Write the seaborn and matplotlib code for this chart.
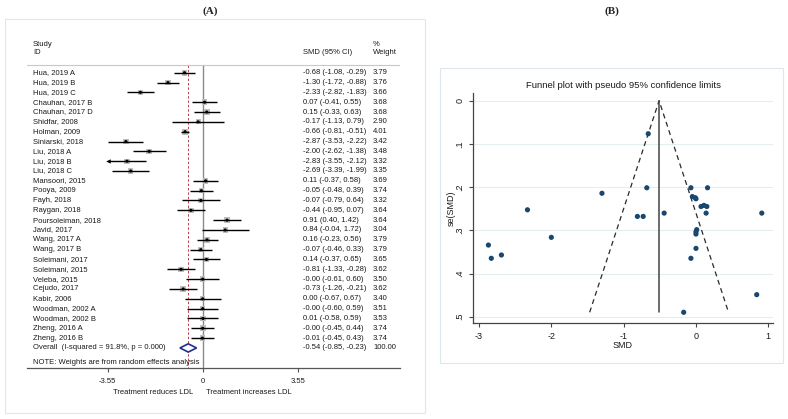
import numpy as np
import pandas as pd
import matplotlib
matplotlib.use("Agg")
import matplotlib.pyplot as plt
import seaborn as sns
from matplotlib.patches import Rectangle, Polygon

sns.set_style("white")
plt.rcParams["font.family"] = ["Liberation Sans", "DejaVu Sans"]

# ---------------- data ----------------
studies = ["Hua, 2019 A", "Hua, 2019 B", "Hua, 2019 C", "Chauhan, 2017 B", "Chauhan, 2017 D",
           "Shidfar, 2008", "Holman, 2009", "Siniarski, 2018", "Liu, 2018 A", "Liu, 2018 B",
           "Liu, 2018 C", "Mansoori, 2015", "Pooya, 2009", "Fayh, 2018", "Raygan, 2018",
           "Poursoleiman, 2018", "Javid, 2017", "Wang, 2017 A", "Wang, 2017 B", "Soleimani, 2017",
           "Soleimani, 2015", "Veleba, 2015", "Cejudo, 2017", "Kabir, 2006", "Woodman, 2002 A",
           "Woodman, 2002 B", "Zheng, 2016 A", "Zheng, 2016 B"]
smd = [-0.68, -1.30, -2.33, 0.07, 0.15, -0.17, -0.66, -2.87, -2.00, -2.83,
       -2.69, 0.11, -0.05, -0.07, -0.44, 0.91, 0.84, 0.16, -0.07, 0.14,
       -0.81, -0.0, -0.73, 0.0, -0.0, 0.01, -0.0, -0.01]
ci_low = [-1.08, -1.72, -2.82, -0.41, -0.33, -1.13, -0.81, -3.53, -2.62, -3.55,
          -3.39, -0.37, -0.48, -0.79, -0.95, 0.40, -0.04, -0.23, -0.46, -0.37,
          -1.33, -0.61, -1.26, -0.67, -0.60, -0.58, -0.45, -0.45]
ci_high = [-0.29, -0.88, -1.83, 0.55, 0.63, 0.79, -0.51, -2.22, -1.38, -2.12,
           -1.99, 0.58, 0.39, 0.64, 0.07, 1.42, 1.72, 0.56, 0.33, 0.65,
           -0.28, 0.60, -0.21, 0.67, 0.59, 0.59, 0.44, 0.43]
weights = [3.79, 3.76, 3.66, 3.68, 3.68, 2.90, 4.01, 3.42, 3.48, 3.32,
           3.35, 3.69, 3.74, 3.32, 3.64, 3.64, 3.04, 3.79, 3.79, 3.65,
           3.62, 3.50, 3.62, 3.40, 3.51, 3.53, 3.74, 3.74]
overall_label = "Overall  (I-squared = 91.8%, p = 0.000)"
overall_smd, overall_low, overall_high, overall_weight = -0.54, -0.85, -0.23, 100.00
forest_ticks = [-3.55, 0, 3.55]
forest_ticklabels = ["-3.55", "0", "3.55"]
funnel_center = -0.51
funnel_xticks = [-3, -2, -1, 0, 1]
funnel_yticks = [0, 0.1, 0.2, 0.3, 0.4, 0.5]
funnel_yticklabels = ["0", ".1", ".2", ".3", ".4", ".5"]

se = (np.array(ci_high) - np.array(ci_low)) / (2 * 1.96)

W, H = 788, 419
fig = plt.figure(figsize=(W / 100, H / 100), dpi=100)

def fx(px):
    return px / W

def fy(py):
    return 1 - py / H

TXT = "#1a1a1a"
FS = 5.5

# panel frames
for (x0, y0, x1, y1) in [(5, 19, 425, 413), (440, 68, 783, 363)]:
    fig.patches.append(Rectangle((fx(x0), fy(y1)), fx(x1) - fx(x0), fy(y0) - fy(y1),
                                 transform=fig.transFigure, fill=False,
                                 ec="#dde7ec", lw=0.8))
fig.text(fx(210), fy(11), "(A)", family=["Liberation Serif", "DejaVu Serif"],
         weight="bold", fontsize=8, ha="center", va="center")
fig.text(fx(612), fy(11), "(B)", family=["Liberation Serif", "DejaVu Serif"],
         weight="bold", fontsize=8, ha="center", va="center")

# ---------------- forest plot ----------------
x0px, pxu = 202.7, 26.76
row0, rowh = 72.7, 9.83
ax = fig.add_axes([fx(27), fy(368), fx(400) - fx(27), fy(36) - fy(368)])

def dx(px):
    return (px - x0px) / pxu

def dy(py):
    return (py - row0) / rowh

ax.set_xlim(dx(27), dx(400))
ybot = dy(368)
ax.set_ylim(ybot, dy(36))
rows = np.arange(len(studies))
n = len(studies)

hdr = dy(65.3)
ax.plot([dx(27), dx(400)], [hdr, hdr], color="#c8c8c8", lw=0.8)
ax.plot([0, 0], [hdr, ybot], color="#8a8a8a", lw=1.0, zorder=1)
ax.plot([overall_smd, overall_smd], [hdr, ybot], color="#b8404f", lw=0.7,
        dashes=(2.5, 2), zorder=1)

sizes = (5.6 * np.sqrt(np.array(weights) / 3.7) * 0.72) ** 2
sns.scatterplot(x=smd, y=rows, s=sizes, marker="s", color="#bdbdbd",
                edgecolor="none", ax=ax, legend=False, zorder=2)
xmin_axis = forest_ticks[0]
lo_draw = np.maximum(np.array(ci_low), xmin_axis)
ax.hlines(rows, lo_draw, ci_high, color="black", lw=1.0, zorder=3)
for r, lo in zip(rows, ci_low):
    if lo <= xmin_axis:
        ax.plot([xmin_axis], [r], marker="<", ms=3.2, mew=0, color="black", zorder=4)
sns.scatterplot(x=smd, y=rows, s=5, marker="o", color="black",
                edgecolor="none", ax=ax, legend=False, zorder=4)

# overall diamond
dh = 0.42
ax.add_patch(Polygon([(overall_low, n), (overall_smd, n - dh), (overall_high, n),
                      (overall_smd, n + dh)], closed=True, fc="white",
                     ec="#1f2f8a", lw=1.2, zorder=5))

# text columns
xn, xs, xw = dx(33), dx(303), dx(373)
ax.text(xn, dy(44), "Study", fontsize=FS, color=TXT, va="center")
ax.text(xn, dy(53), "ID", fontsize=FS, color=TXT, va="center")
ax.text(xs, dy(53), "SMD (95% CI)", fontsize=FS, color=TXT, va="center")
ax.text(xw, dy(44), "%", fontsize=FS, color=TXT, va="center")
ax.text(xw, dy(53), "Weight", fontsize=FS, color=TXT, va="center")
for r, name, m, lo, hi, w in zip(rows, studies, smd, ci_low, ci_high, weights):
    ax.text(xn, r, name, fontsize=FS, color=TXT, va="center")
    ax.text(xs, r, f"{m:.2f} ({lo:.2f}, {hi:.2f})", fontsize=FS, color=TXT, va="center")
    ax.text(xw, r, f"{w:.2f}", fontsize=FS, color=TXT, va="center")
ax.text(xn, n, overall_label, fontsize=FS, color=TXT, va="center")
ax.text(xs, n, f"{overall_smd:.2f} ({overall_low:.2f}, {overall_high:.2f})",
        fontsize=FS, color=TXT, va="center")
ax.text(xw, n, f"{overall_weight:.2f}", fontsize=FS, color=TXT, va="center")
ax.text(xn, dy(362), "NOTE: Weights are from random effects analysis",
        fontsize=FS, color=TXT, va="center")
ax.text(dx(193), dy(392), "Treatment reduces LDL", fontsize=FS, color=TXT,
        va="center", ha="right", clip_on=False)
ax.text(dx(206), dy(392), "Treatment increases LDL", fontsize=FS, color=TXT,
        va="center", ha="left", clip_on=False)

for s in ["top", "left", "right"]:
    ax.spines[s].set_visible(False)
ax.spines["bottom"].set_color("#555555")
ax.spines["bottom"].set_linewidth(0.9)
ax.set_yticks([])
ax.set_xticks(forest_ticks)
ax.set_xticklabels(forest_ticklabels)
ax.tick_params(axis="x", direction="out", length=3, width=0.8, color="#555555",
               labelsize=FS, labelcolor=TXT, pad=4, bottom=True)
ax.set_facecolor("none")

# ---------------- funnel plot ----------------
xu, x0f = 72.3, 695.7
yu, y0f = 432.0, 100.7
ax2 = fig.add_axes([fx(473), fy(323.3), fx(773) - fx(473), fy(93) - fy(323.3)])
ax2.set_xlim(-3 - (479 - 473) / xu, 1 + (773 - 768.3) / xu)
ax2.set_ylim(0.5 + (323.3 - 316.7) / yu, -(100.7 - 93) / yu)
for t in funnel_yticks:
    ax2.axhline(t, color="#e4eef1", lw=0.8, zorder=0)

semax = se.max()
ax2.plot([funnel_center - 1.96 * semax, funnel_center, funnel_center + 1.96 * semax],
         [semax, 0, semax], color="#2a2a2a", lw=0.9, dashes=(4, 3), zorder=2)
ax2.plot([funnel_center, funnel_center], [0, semax], color="#444444", lw=1.1, zorder=2)
sns.scatterplot(x=smd, y=se, color="#1a476f", s=14, edgecolor="none", ax=ax2,
                legend=False, zorder=3)

for s in ["top", "right"]:
    ax2.spines[s].set_visible(False)
for s in ["left", "bottom"]:
    ax2.spines[s].set_color("#444444")
    ax2.spines[s].set_linewidth(0.9)
ax2.set_xticks(funnel_xticks)
ax2.set_xticklabels([str(v) for v in funnel_xticks])
ax2.set_yticks(funnel_yticks)
ax2.set_yticklabels(funnel_yticklabels, rotation=90, va="center")
ax2.tick_params(direction="out", length=3, width=0.8, color="#444444",
                labelsize=6.5, labelcolor=TXT, pad=3, left=True, bottom=True)
ax2.set_xlabel("SMD", fontsize=6.5, color=TXT, labelpad=0)
ax2.set_ylabel("se(SMD)", fontsize=6.5, color=TXT, labelpad=0)
fig.text(fx(623), fy(85), "Funnel plot with pseudo 95% confidence limits",
         fontsize=6.8, color=TXT, ha="center", va="center")

fig.savefig("out.png", dpi=100)
